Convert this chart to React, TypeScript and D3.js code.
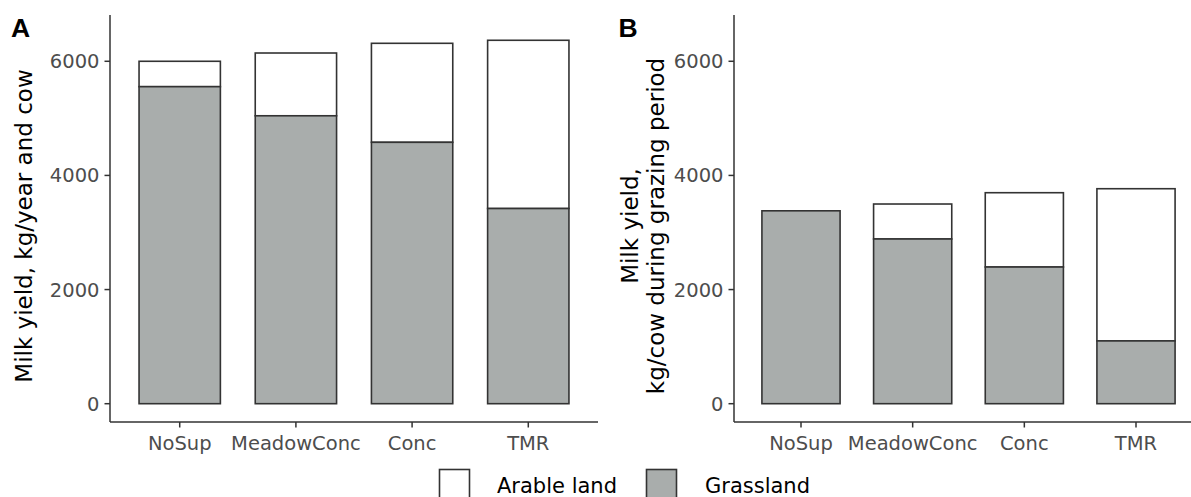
import React from "react";
import * as d3 from "d3";

const categories = ["NoSup", "MeadowConc", "Conc", "TMR"];
// Panel A: milk yield per year and cow
const grassA = [5555, 5045, 4580, 3420];
const totalA = [6000, 6145, 6315, 6368];
// Panel B: milk yield during grazing period
const grassB = [3380, 2886, 2395, 1100];
const totalB = [3380, 3499, 3697, 3767];
const yTicks = [0, 2000, 4000, 6000];
const legendLabels = ["Arable land", "Grassland"];

const W = 1191;
const H = 497;
const FONT = "'DejaVu Sans', sans-serif";
const GREY = "#a9adac";
const STROKE = "#333333";
const TICKCOL = "#4d4d4d";

const yScale = d3.scaleLinear().domain([-320.7, 6811]).range([422, 15]);

function Panel({ x0, x1, grass, total, label, title }: { x0: number; x1: number; grass: number[]; total: number[]; label: string; title: string[] }) {
  const x = d3.scaleBand().domain(categories).range([x0, x1]).paddingInner(0.3).paddingOuter(0.25);
  const y0 = yScale.range()[0];
  const yTop = yScale.range()[1];
  const titleCenter = 226;
  return (
    <g>
      {categories.map((c, i) => (
        <g key={c}>
          <rect x={x(c)} y={yScale(total[i])} width={x.bandwidth()} height={yScale(grass[i]) - yScale(total[i])} fill="#ffffff" stroke={STROKE} strokeWidth={1.6} />
          <rect x={x(c)} y={yScale(grass[i])} width={x.bandwidth()} height={yScale(0) - yScale(grass[i])} fill={GREY} stroke={STROKE} strokeWidth={1.6} />
        </g>
      ))}
      <line x1={x0} x2={x1} y1={y0} y2={y0} stroke={STROKE} strokeWidth={1.5} />
      <line x1={x0} x2={x0} y1={y0} y2={yTop} stroke={STROKE} strokeWidth={1.5} />
      {yTicks.map((t) => (
        <g key={t}>
          <line x1={x0 - 5.5} x2={x0} y1={yScale(t)} y2={yScale(t)} stroke={STROKE} strokeWidth={1.5} />
          <text x={x0 - 10.5} y={yScale(t)} dy="0.36em" textAnchor="end" fontFamily={FONT} fontSize={19.5} fill={TICKCOL}>{t}</text>
        </g>
      ))}
      {categories.map((c) => {
        const cx = (x(c) as number) + x.bandwidth() / 2;
        return (
          <g key={c}>
            <line x1={cx} x2={cx} y1={y0} y2={y0 + 5.5} stroke={STROKE} strokeWidth={1.5} />
            <text x={cx} y={449.5} textAnchor="middle" fontFamily={FONT} fontSize={19.5} fill={TICKCOL}>{c}</text>
          </g>
        );
      })}
      {title.map((t, i) => {
        const bx = title.length === 1 ? 32 : 638 + i * 25.5;
        return (
          <text key={i} transform={`translate(${bx},${titleCenter}) rotate(-90)`} textAnchor="middle" fontFamily={FONT} fontSize={23} fill="#000">{t}</text>
        );
      })}
      <text x={label === "A" ? 11 : 618.5} y={37.3} fontFamily="'Liberation Sans', Arial, sans-serif" fontWeight="bold" fontSize={26.5} fill="#000">{label}</text>
    </g>
  );
}

export default function App() {
  return (
    <svg width={W} height={H} style={{ position: "absolute", left: 0, top: 0, background: "#fff" }}>
      <rect x={0} y={0} width={W} height={H} fill="#fff" />
      <Panel x0={110} x1={598} grass={grassA} total={totalA} label="A" title={["Milk yield, kg/year and cow"]} />
      <Panel x0={734} x1={1203} grass={grassB} total={totalB} label="B" title={["Milk yield,", "kg/cow during grazing period"]} />
      <g>
        <rect x={439.5} y={469.5} width={30} height={30} fill="#fff" stroke={STROKE} strokeWidth={1.6} />
        <text x={497} y={492.5} fontFamily={FONT} fontSize={21} fill="#000">{legendLabels[0]}</text>
        <rect x={646.5} y={469.5} width={30} height={30} fill={GREY} stroke={STROKE} strokeWidth={1.6} />
        <text x={705} y={492.5} fontFamily={FONT} fontSize={21} fill="#000">{legendLabels[1]}</text>
      </g>
    </svg>
  );
}
